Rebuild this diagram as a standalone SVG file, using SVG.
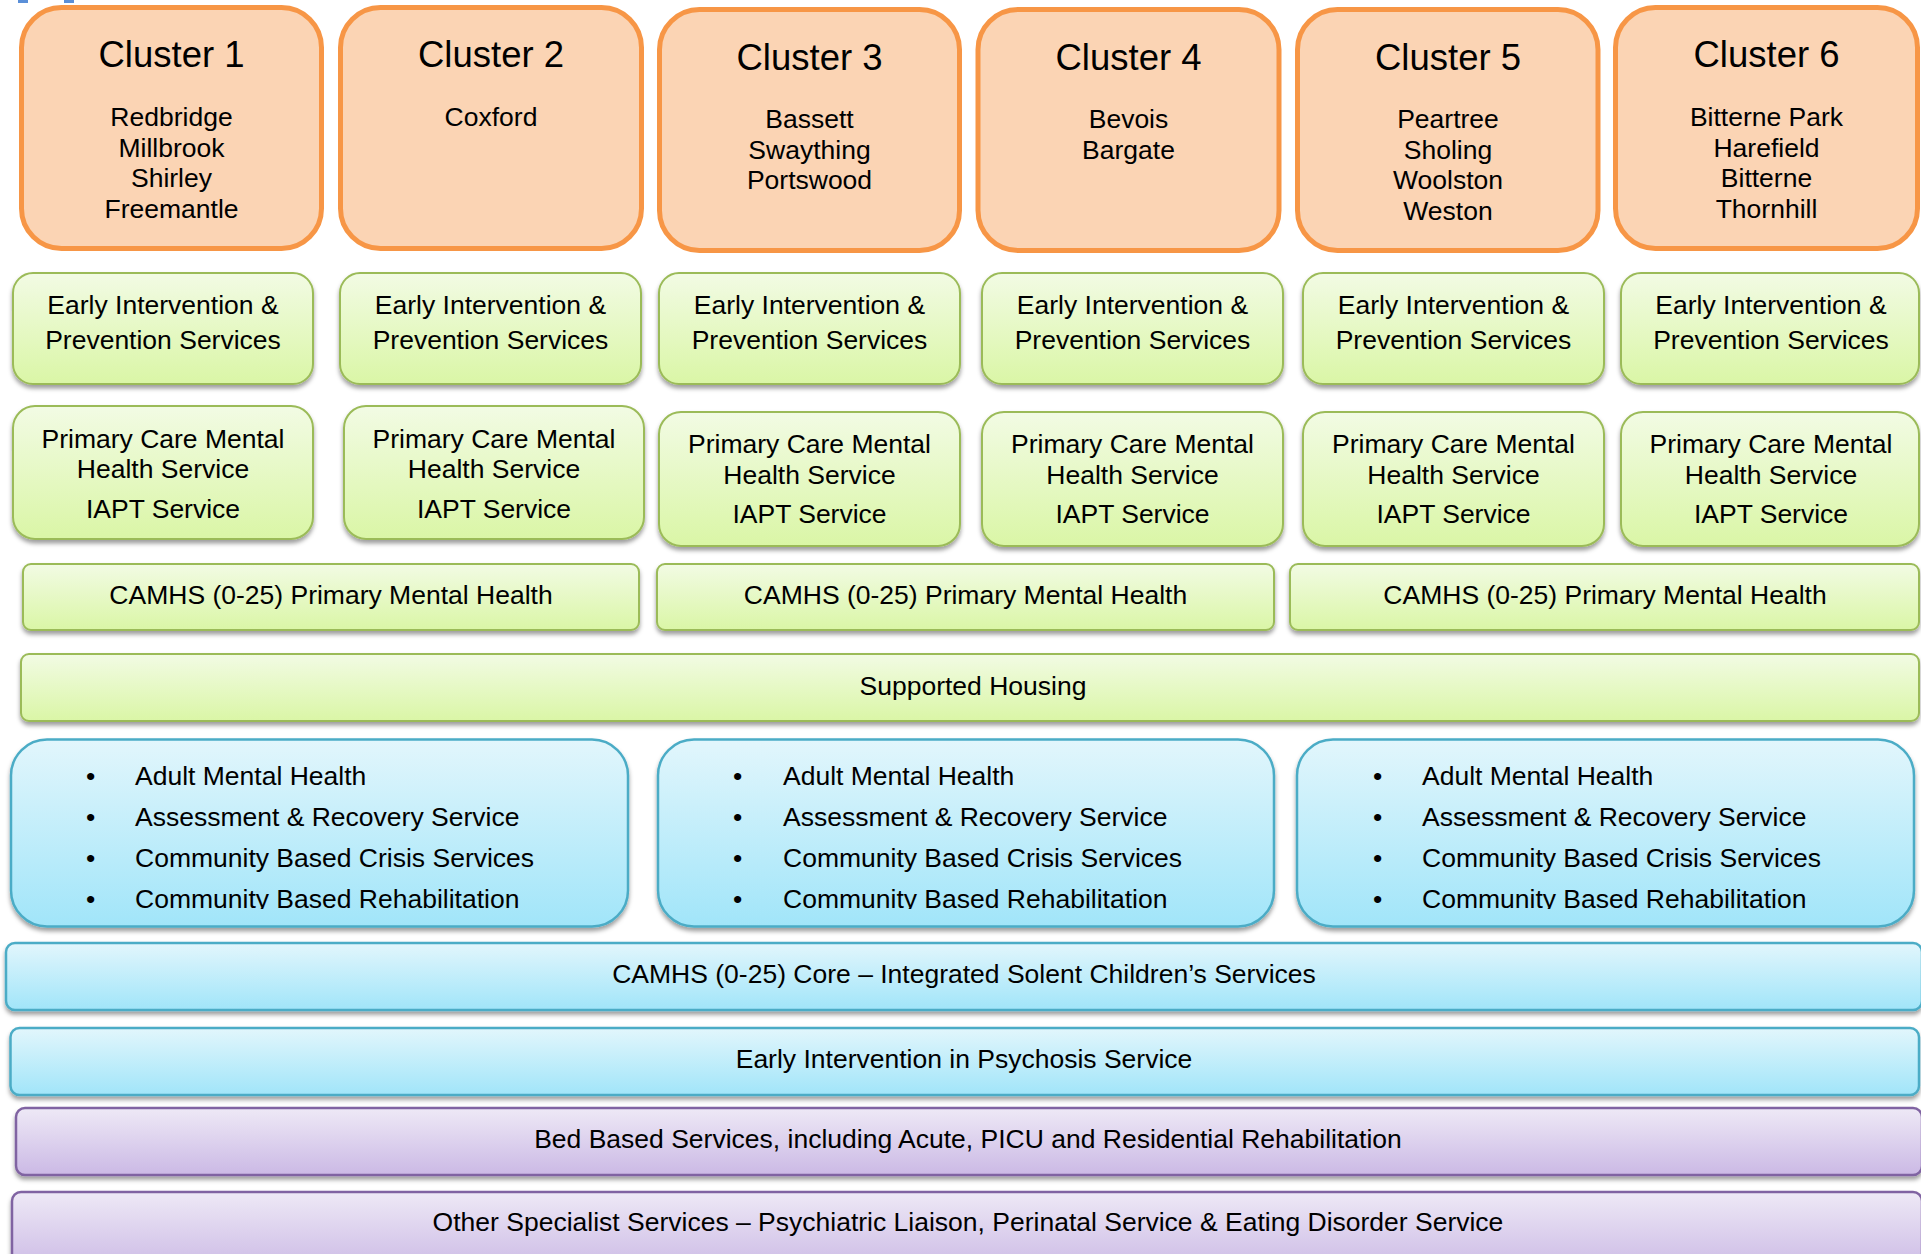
<svg xmlns="http://www.w3.org/2000/svg" width="1921" height="1254" viewBox="0 0 1921 1254">
  <defs>
    <linearGradient id="gGreen" x1="0" y1="0" x2="0" y2="1">
      <stop offset="0" stop-color="#F2FBE4"/>
      <stop offset="1" stop-color="#DAF6A6"/>
    </linearGradient>
    <linearGradient id="gBlue" x1="0" y1="0" x2="0" y2="1">
      <stop offset="0" stop-color="#E2F6FC"/>
      <stop offset="1" stop-color="#A1E5F9"/>
    </linearGradient>
    <linearGradient id="gPurple" x1="0" y1="0" x2="0" y2="1">
      <stop offset="0" stop-color="#EEE9F6"/>
      <stop offset="1" stop-color="#CBB9E5"/>
    </linearGradient>
    <filter id="shadow" x="-5%" y="-20%" width="110%" height="150%">
      <feDropShadow dx="0" dy="3.5" stdDeviation="2" flood-color="#000" flood-opacity="0.38"/>
    </filter>
    <clipPath id="listClip1"><rect x="0" y="730" width="660" height="179"/></clipPath>
    <clipPath id="listClip2"><rect x="640" y="730" width="650" height="179"/></clipPath>
    <clipPath id="listClip3"><rect x="1280" y="730" width="641" height="179"/></clipPath>
  </defs>
  <style>
    text { font-family: "Liberation Sans", Arial, sans-serif; fill: #000; }
    .t { font-size: 26.5px; text-anchor: middle; }
    .h { font-size: 36.5px; text-anchor: middle; }
    .li { font-size: 26.5px; }
    .cluster { fill: #FBD4B4; stroke: #F79646; stroke-width: 5; }
    .green { fill: url(#gGreen); stroke: #9BBB59; stroke-width: 2; filter: url(#shadow); }
    .blue { fill: url(#gBlue); stroke: #4BACC6; stroke-width: 2.5; filter: url(#shadow); }
    .purple { fill: url(#gPurple); stroke: #8064A2; stroke-width: 2.5; filter: url(#shadow); }
  </style>

  <rect width="1921" height="1254" fill="#FFFFFF"/>

  <!-- fragments of a heading above the top edge -->
  <g id="heading-fragment" fill="#5A8FD8">
    <rect x="18" y="0" width="10" height="3"/>
    <rect x="64" y="0" width="10" height="3"/>
  </g>

  <!-- Clusters -->
  <g id="cluster1">
    <rect class="cluster" x="21.5" y="7.5" width="300" height="241" rx="40"/>
    <text class="h" x="171.5" y="67">Cluster 1</text>
    <text class="t" x="171.5" y="126">Redbridge</text>
    <text class="t" x="171.5" y="156.5">Millbrook</text>
    <text class="t" x="171.5" y="187">Shirley</text>
    <text class="t" x="171.5" y="217.5">Freemantle</text>
  </g>
  <g id="cluster2">
    <rect class="cluster" x="340.5" y="7.5" width="301" height="241" rx="40"/>
    <text class="h" x="491" y="67">Cluster 2</text>
    <text class="t" x="491" y="126">Coxford</text>
  </g>
  <g id="cluster3">
    <rect class="cluster" x="659.5" y="9.5" width="300" height="241" rx="40"/>
    <text class="h" x="809.5" y="69.5">Cluster 3</text>
    <text class="t" x="809.5" y="128">Bassett</text>
    <text class="t" x="809.5" y="158.5">Swaything</text>
    <text class="t" x="809.5" y="189">Portswood</text>
  </g>
  <g id="cluster4">
    <rect class="cluster" x="978" y="9.5" width="301" height="241" rx="40"/>
    <text class="h" x="1128.5" y="69.5">Cluster 4</text>
    <text class="t" x="1128.5" y="128">Bevois</text>
    <text class="t" x="1128.5" y="158.5">Bargate</text>
  </g>
  <g id="cluster5">
    <rect class="cluster" x="1297.5" y="9.5" width="300.5" height="241" rx="40"/>
    <text class="h" x="1448" y="69.5">Cluster 5</text>
    <text class="t" x="1448" y="128">Peartree</text>
    <text class="t" x="1448" y="158.5">Sholing</text>
    <text class="t" x="1448" y="189">Woolston</text>
    <text class="t" x="1448" y="219.5">Weston</text>
  </g>
  <g id="cluster6">
    <rect class="cluster" x="1615.5" y="7.5" width="302" height="241" rx="40"/>
    <text class="h" x="1766.5" y="67">Cluster 6</text>
    <text class="t" x="1766.5" y="126">Bitterne Park</text>
    <text class="t" x="1766.5" y="156.5">Harefield</text>
    <text class="t" x="1766.5" y="187">Bitterne</text>
    <text class="t" x="1766.5" y="217.5">Thornhill</text>
  </g>

  <!-- Early Intervention & Prevention Services -->
  <g id="eip1">
    <rect class="green" x="13" y="273" width="300" height="111" rx="20"/>
    <text class="t" x="163" y="314">Early Intervention &amp;</text>
    <text class="t" x="163" y="349">Prevention Services</text>
  </g>
  <g id="eip2">
    <rect class="green" x="340" y="273" width="301" height="111" rx="20"/>
    <text class="t" x="490.5" y="314">Early Intervention &amp;</text>
    <text class="t" x="490.5" y="349">Prevention Services</text>
  </g>
  <g id="eip3">
    <rect class="green" x="659" y="273" width="301" height="111" rx="20"/>
    <text class="t" x="809.5" y="314">Early Intervention &amp;</text>
    <text class="t" x="809.5" y="349">Prevention Services</text>
  </g>
  <g id="eip4">
    <rect class="green" x="982" y="273" width="301" height="111" rx="20"/>
    <text class="t" x="1132.5" y="314">Early Intervention &amp;</text>
    <text class="t" x="1132.5" y="349">Prevention Services</text>
  </g>
  <g id="eip5">
    <rect class="green" x="1303" y="273" width="301" height="111" rx="20"/>
    <text class="t" x="1453.5" y="314">Early Intervention &amp;</text>
    <text class="t" x="1453.5" y="349">Prevention Services</text>
  </g>
  <g id="eip6">
    <rect class="green" x="1621" y="273" width="298" height="111" rx="20"/>
    <text class="t" x="1771" y="314">Early Intervention &amp;</text>
    <text class="t" x="1771" y="349">Prevention Services</text>
  </g>

  <!-- Primary Care Mental Health / IAPT -->
  <g id="pcmh1">
    <rect class="green" x="13" y="406" width="300" height="133" rx="22"/>
    <text class="t" x="163" y="447.5">Primary Care Mental</text>
    <text class="t" x="163" y="478">Health Service</text>
    <text class="t" x="163" y="517.5">IAPT Service</text>
  </g>
  <g id="pcmh2">
    <rect class="green" x="344" y="406" width="300" height="133" rx="22"/>
    <text class="t" x="494" y="447.5">Primary Care Mental</text>
    <text class="t" x="494" y="478">Health Service</text>
    <text class="t" x="494" y="517.5">IAPT Service</text>
  </g>
  <g id="pcmh3">
    <rect class="green" x="659" y="412" width="301" height="134" rx="22"/>
    <text class="t" x="809.5" y="453">Primary Care Mental</text>
    <text class="t" x="809.5" y="483.5">Health Service</text>
    <text class="t" x="809.5" y="523">IAPT Service</text>
  </g>
  <g id="pcmh4">
    <rect class="green" x="982" y="412" width="301" height="134" rx="22"/>
    <text class="t" x="1132.5" y="453">Primary Care Mental</text>
    <text class="t" x="1132.5" y="483.5">Health Service</text>
    <text class="t" x="1132.5" y="523">IAPT Service</text>
  </g>
  <g id="pcmh5">
    <rect class="green" x="1303" y="412" width="301" height="134" rx="22"/>
    <text class="t" x="1453.5" y="453">Primary Care Mental</text>
    <text class="t" x="1453.5" y="483.5">Health Service</text>
    <text class="t" x="1453.5" y="523">IAPT Service</text>
  </g>
  <g id="pcmh6">
    <rect class="green" x="1621" y="412" width="298" height="134" rx="22"/>
    <text class="t" x="1771" y="453">Primary Care Mental</text>
    <text class="t" x="1771" y="483.5">Health Service</text>
    <text class="t" x="1771" y="523">IAPT Service</text>
  </g>

  <!-- CAMHS primary mental health -->
  <g id="camhs-primary1">
    <rect class="green" x="23" y="564" width="616" height="66" rx="8"/>
    <text class="t" x="331" y="603.5">CAMHS (0-25) Primary Mental Health</text>
  </g>
  <g id="camhs-primary2">
    <rect class="green" x="657" y="564" width="617" height="66" rx="8"/>
    <text class="t" x="965.5" y="603.5">CAMHS (0-25) Primary Mental Health</text>
  </g>
  <g id="camhs-primary3">
    <rect class="green" x="1290" y="564" width="629" height="66" rx="8"/>
    <text class="t" x="1605" y="603.5">CAMHS (0-25) Primary Mental Health</text>
  </g>

  <!-- Supported Housing -->
  <g id="supported-housing">
    <rect class="green" x="21" y="654" width="1898" height="67" rx="8"/>
    <text class="t" x="973" y="694.5">Supported Housing</text>
  </g>

  <!-- Adult Mental Health -->
  <g id="amh1">
    <rect class="blue" x="11" y="739.5" width="617" height="187" rx="36"/>
    <g clip-path="url(#listClip1)">
      <text class="li" x="86" y="785">•</text>
      <text class="li" x="135" y="785">Adult Mental Health</text>
      <text class="li" x="86" y="826">•</text>
      <text class="li" x="135" y="826">Assessment &amp; Recovery Service</text>
      <text class="li" x="86" y="867">•</text>
      <text class="li" x="135" y="867">Community Based Crisis Services</text>
      <text class="li" x="86" y="908">•</text>
      <text class="li" x="135" y="908">Community Based Rehabilitation</text>
    </g>
  </g>
  <g id="amh2">
    <rect class="blue" x="658" y="739.5" width="616" height="187" rx="36"/>
    <g clip-path="url(#listClip2)">
      <text class="li" x="733" y="785">•</text>
      <text class="li" x="783" y="785">Adult Mental Health</text>
      <text class="li" x="733" y="826">•</text>
      <text class="li" x="783" y="826">Assessment &amp; Recovery Service</text>
      <text class="li" x="733" y="867">•</text>
      <text class="li" x="783" y="867">Community Based Crisis Services</text>
      <text class="li" x="733" y="908">•</text>
      <text class="li" x="783" y="908">Community Based Rehabilitation</text>
    </g>
  </g>
  <g id="amh3">
    <rect class="blue" x="1297" y="739.5" width="617" height="187" rx="36"/>
    <g clip-path="url(#listClip3)">
      <text class="li" x="1373" y="785">•</text>
      <text class="li" x="1422" y="785">Adult Mental Health</text>
      <text class="li" x="1373" y="826">•</text>
      <text class="li" x="1422" y="826">Assessment &amp; Recovery Service</text>
      <text class="li" x="1373" y="867">•</text>
      <text class="li" x="1422" y="867">Community Based Crisis Services</text>
      <text class="li" x="1373" y="908">•</text>
      <text class="li" x="1422" y="908">Community Based Rehabilitation</text>
    </g>
  </g>

  <!-- Core and specialist services -->
  <g id="camhs-core">
    <rect class="blue" x="6" y="943" width="1916" height="67" rx="9"/>
    <text class="t" x="964" y="983">CAMHS (0-25) Core – Integrated Solent Children’s Services</text>
  </g>
  <g id="eip-psychosis">
    <rect class="blue" x="10.5" y="1028" width="1908.5" height="67" rx="9"/>
    <text class="t" x="964" y="1068">Early Intervention in Psychosis Service</text>
  </g>
  <g id="bed-based">
    <rect class="purple" x="16" y="1108" width="1906" height="67" rx="9"/>
    <text class="t" x="968" y="1148">Bed Based Services, including Acute, PICU and Residential Rehabilitation</text>
  </g>
  <g id="other-specialist">
    <rect class="purple" x="12" y="1192" width="1910" height="80" rx="9"/>
    <text class="t" x="968" y="1230.5">Other Specialist Services – Psychiatric Liaison, Perinatal Service &amp; Eating Disorder Service</text>
  </g>

  <g id="connectors"/>
</svg>
